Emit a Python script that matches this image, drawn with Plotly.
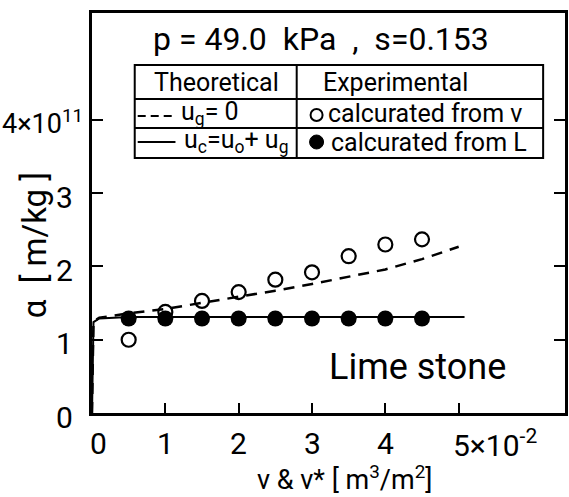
import plotly.graph_objects as go

# ---------------- data ----------------
v_open = [0.5, 1.0, 1.5, 2.0, 2.5, 3.0, 3.5, 4.0, 4.5]
alpha_open = [1.00, 1.38, 1.53, 1.65, 1.82, 1.92, 2.14, 2.30, 2.37]

v_filled = [0.5, 1.0, 1.5, 2.0, 2.5, 3.0, 3.5, 4.0, 4.5]
alpha_filled = [1.29, 1.29, 1.29, 1.29, 1.29, 1.29, 1.29, 1.29, 1.29]

v_dash = [0.0, 0.02, 0.1, 0.5, 1.0, 1.5, 2.0, 2.5, 3.0, 3.5, 4.0, 4.5, 5.0]
alpha_dash = [0.0, 1.25, 1.30, 1.36, 1.42, 1.50, 1.58, 1.67, 1.76, 1.86, 1.96, 2.10, 2.27]

v_solid = [0.0, 0.02, 0.1, 0.5, 1.0, 2.0, 3.0, 4.0, 5.08]
alpha_solid = [0.0, 1.24, 1.29, 1.31, 1.31, 1.31, 1.31, 1.31, 1.31]

x_ticks = [0, 1, 2, 3, 4, 5]
x_tick_labels = ["0", "1", "2", "3", "4", "5×10<sup>-2</sup>"]
y_ticks = [0, 1, 2, 3, 4]
y_tick_labels = ["0", "1", "2", "3", "4×10<sup>11</sup>"]

title_text = "p = 49.0  kPa  ,  s=0.153"
material_text = "Lime stone"

# ---------------- layout helpers ----------------
W, H = 569, 497
L, R, T, B = 92, 1, 13, 84
PX0, PX1 = L, W - R
PY0, PY1 = H - B, T


def px(x):
    return (x - PX0) / (PX1 - PX0)


def py(y):
    return (PY0 - y) / (PY0 - PY1)


FONT = "Roboto, 'Liberation Sans', sans-serif"

fig = go.Figure()

fig.add_trace(go.Scatter(x=v_dash, y=alpha_dash, mode="lines",
                         line=dict(color="black", width=2.5, dash="11px,8px"),
                         showlegend=False))
fig.add_trace(go.Scatter(x=v_solid, y=alpha_solid, mode="lines",
                         line=dict(color="black", width=2),
                         showlegend=False))
fig.add_trace(go.Scatter(x=v_open, y=alpha_open, mode="markers",
                         marker=dict(symbol="circle-open", size=14, color="black",
                                     line=dict(width=2.2, color="black")),
                         showlegend=False))
fig.add_trace(go.Scatter(x=v_filled, y=alpha_filled, mode="markers",
                         marker=dict(symbol="circle", size=16, color="black"),
                         showlegend=False))

annotations = []
# tick labels
for xv, lab in zip(x_ticks, x_tick_labels):
    if xv == 5:
        annotations.append(dict(x=xv, y=0, xref="x", yref="y", text=lab, showarrow=False,
                                xanchor="left", yanchor="middle", xshift=-8, yshift=-30,
                                font=dict(family=FONT, size=30, color="black")))
    else:
        annotations.append(dict(x=xv, y=0, xref="x", yref="y", text=lab, showarrow=False,
                                xanchor="center", yanchor="middle",
                                xshift=6 if xv == 0 else 0, yshift=-30,
                                font=dict(family=FONT, size=30, color="black")))
for yv, lab in zip(y_ticks, y_tick_labels):
    if yv == 4:
        annotations.append(dict(x=0, y=yv, xref="x", yref="y", text=lab, showarrow=False,
                                xanchor="right", yanchor="middle", xshift=-7, yshift=-2,
                                font=dict(family=FONT, size=27, color="black")))
    else:
        annotations.append(dict(x=0, y=yv, xref="x", yref="y", text=lab, showarrow=False,
                                xanchor="right", yanchor="middle", xshift=-17, yshift=-4,
                                font=dict(family=FONT, size=30, color="black")))

# axis titles
annotations.append(dict(x=px(346), y=py(478), xref="paper", yref="paper",
                        text="v &amp; v* [ m<sup>3</sup>/m<sup>2</sup>]", showarrow=False,
                        xanchor="center", yanchor="middle",
                        font=dict(family=FONT, size=27, color="black")))
annotations.append(dict(x=px(34), y=py(245), xref="paper", yref="paper",
                        text="α  [ m/kg ]", showarrow=False, textangle=-90,
                        xanchor="center", yanchor="middle",
                        font=dict(family=FONT, size=33, color="black")))

# title and material
annotations.append(dict(x=px(322), y=py(39), xref="paper", yref="paper",
                        text=title_text, showarrow=False, xanchor="center", yanchor="middle",
                        font=dict(family=FONT, size=32, color="black")))
annotations.append(dict(x=px(420), y=py(367), xref="paper", yref="paper",
                        text=material_text, showarrow=False, xanchor="center", yanchor="middle",
                        font=dict(family=FONT, size=36, color="black")))

# table texts
tf = dict(family=FONT, size=25, color="black")
annotations += [
    dict(x=px(217), y=py(82), text="Theoretical", xanchor="center"),
    dict(x=px(322), y=py(82), text="Experimental", xanchor="left"),
    dict(x=px(180), y=py(113), text="u<sub>g</sub>= 0", xanchor="left"),
    dict(x=px(327), y=py(114), text="calcurated from v", xanchor="left"),
    dict(x=px(183), y=py(141), text="u<sub>c</sub>=u<sub>o</sub>+ u<sub>g</sub>", xanchor="left"),
    dict(x=px(331), y=py(142), text="calcurated from L", xanchor="left"),
]
for a in annotations[-6:]:
    a.update(xref="paper", yref="paper", showarrow=False, yanchor="middle", font=tf)

shapes = []
lw = dict(color="black", width=2)
shapes.append(dict(type="rect", xref="paper", yref="paper",
                   x0=px(135), x1=px(546), y0=py(65), y1=py(158), line=lw))
shapes.append(dict(type="line", xref="paper", yref="paper",
                   x0=px(135), x1=px(546), y0=py(99), y1=py(99), line=lw))
shapes.append(dict(type="line", xref="paper", yref="paper",
                   x0=px(135), x1=px(546), y0=py(128), y1=py(128), line=lw))
shapes.append(dict(type="line", xref="paper", yref="paper",
                   x0=px(298), x1=px(298), y0=py(65), y1=py(158), line=lw))
# legend samples
shapes.append(dict(type="line", xref="paper", yref="paper",
                   x0=px(138), x1=px(176), y0=py(116), y1=py(116),
                   line=dict(color="black", width=2, dash="8px,5px")))
shapes.append(dict(type="line", xref="paper", yref="paper",
                   x0=px(138), x1=px(176), y0=py(142), y1=py(142),
                   line=dict(color="black", width=2)))
shapes.append(dict(type="circle", xref="paper", yref="paper",
                   xsizemode="pixel", ysizemode="pixel",
                   xanchor=px(318), yanchor=py(115), x0=-6, x1=6, y0=-6, y1=6,
                   line=dict(color="black", width=2)))
shapes.append(dict(type="circle", xref="paper", yref="paper",
                   xsizemode="pixel", ysizemode="pixel",
                   xanchor=px(318), yanchor=py(142), x0=-7, x1=7, y0=-7, y1=7,
                   fillcolor="black", line=dict(color="black", width=1)))

fig.update_layout(
    width=W, height=H, autosize=False,
    margin=dict(l=L, r=R, t=T, b=B, pad=0),
    paper_bgcolor="white", plot_bgcolor="white",
    showlegend=False,
    annotations=annotations,
    shapes=shapes,
)
fig.update_xaxes(range=[0, 6.45], tickvals=x_ticks, showticklabels=False,
                 ticks="inside", ticklen=10, tickwidth=1.5, tickcolor="black",
                 showline=True, linecolor="black", linewidth=3, mirror=True,
                 showgrid=False, zeroline=False)
fig.update_yaxes(range=[0, 5.46], tickvals=y_ticks, showticklabels=False,
                 ticks="inside", ticklen=11, tickwidth=1.5, tickcolor="black",
                 showline=True, linecolor="black", linewidth=3, mirror="ticks",
                 showgrid=False, zeroline=False)

fig.write_html("out.html")
